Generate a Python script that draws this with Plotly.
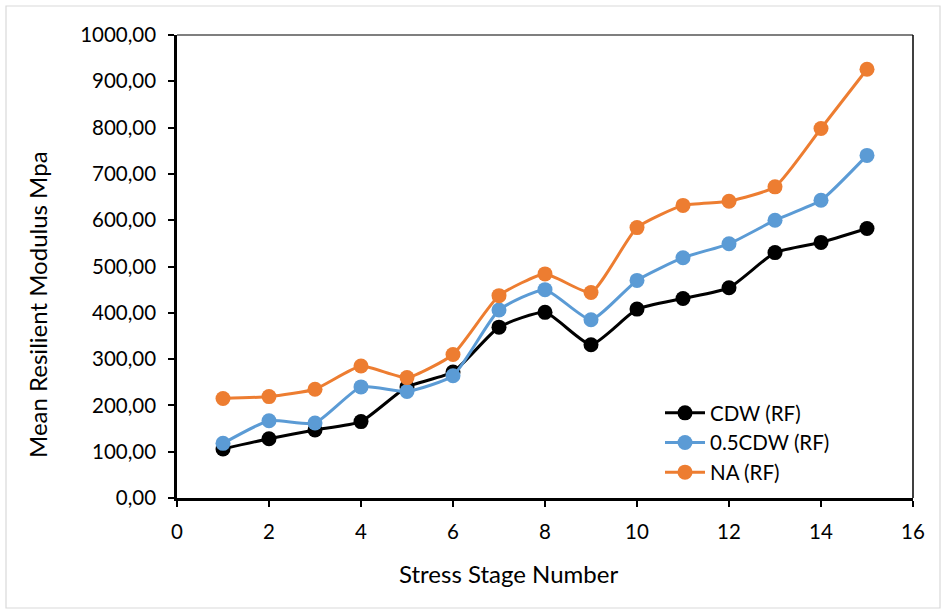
import plotly.graph_objects as go

stages = list(range(1, 16))
cdw = [106, 128, 147, 165, 240, 272, 369, 401, 331, 408, 431, 454, 530, 552, 582]
half_cdw = [118, 167, 162, 240, 230, 264, 406, 450, 385, 470, 519, 549, 600, 643, 740]
na = [215, 219, 235, 285, 260, 310, 437, 484, 444, 584, 632, 641, 672, 798, 926]

y_tickvals = [0, 100, 200, 300, 400, 500, 600, 700, 800, 900, 1000]
y_ticktext = ["0,00", "100,00", "200,00", "300,00", "400,00", "500,00",
              "600,00", "700,00", "800,00", "900,00", "1000,00"]
x_tickvals = [0, 2, 4, 6, 8, 10, 12, 14, 16]

series = [
    ("CDW (RF)", cdw, "#000000"),
    ("0.5CDW (RF)", half_cdw, "#5B9BD5"),
    ("NA (RF)", na, "#ED7D31"),
]

FONT = "Lato"
fig = go.Figure()
for name, vals, color in series:
    fig.add_trace(go.Scatter(
        x=stages, y=vals, name=name, mode="lines+markers",
        line=dict(color=color, width=3, shape="spline", smoothing=0.5),
        marker=dict(color=color, size=15),
    ))

W, H = 944, 612
ml, mr, mt, mb = 177, 31, 35, 114
pw, ph = W - ml - mr, H - mt - mb


def px_x(p):
    return (p - ml) / pw


def px_y(p):
    return (H - mb - p) / ph


fig.update_layout(
    width=W, height=H,
    margin=dict(l=ml, r=mr, t=mt, b=mb),
    paper_bgcolor="white", plot_bgcolor="white",
    font=dict(family=FONT, size=20.5, color="#000000"),
    showlegend=True,
    legend=dict(x=px_x(660), y=px_y(393), xanchor="left", yanchor="top",
                bgcolor="rgba(0,0,0,0)", font=dict(size=20.5, family=FONT),
                itemwidth=40, tracegroupgap=0),
    xaxis=dict(range=[0, 16], tickvals=x_tickvals, showgrid=False, zeroline=False,
               showline=True, linecolor="black", linewidth=2.5,
               ticks="outside", ticklen=6, tickwidth=2, tickcolor="black",
               ticklabelstandoff=8),
    yaxis=dict(range=[0, 1000], tickvals=y_tickvals, ticktext=y_ticktext, showgrid=False,
               zeroline=False, showline=True, linecolor="black", linewidth=2.5,
               ticks="outside", ticklen=6, tickwidth=2, tickcolor="black",
               ticklabelstandoff=8),
    annotations=[
        dict(text="Stress Stage Number", xref="paper", yref="paper",
             x=px_x(508), y=px_y(573), xanchor="center", yanchor="middle",
             showarrow=False, font=dict(size=24, family=FONT)),
        dict(text="Mean Resilient Modulus Mpa", xref="paper", yref="paper",
             x=px_x(37), y=px_y(305), xanchor="center", yanchor="middle",
             textangle=-90, showarrow=False, font=dict(size=24, family=FONT)),
    ],
    shapes=[
        dict(type="line", xref="x domain", yref="y domain", x0=0, x1=1, y0=1, y1=1,
             line=dict(color="black", width=1.2)),
        dict(type="line", xref="x domain", yref="y domain", x0=1, x1=1, y0=0, y1=1,
             line=dict(color="black", width=1.5)),
        dict(type="rect", xref="paper", yref="paper",
             x0=px_x(6), x1=px_x(940), y0=px_y(608), y1=px_y(6),
             line=dict(color="#D9D9D9", width=1.2), layer="below"),
    ],
)

fig.write_html("out.html")
